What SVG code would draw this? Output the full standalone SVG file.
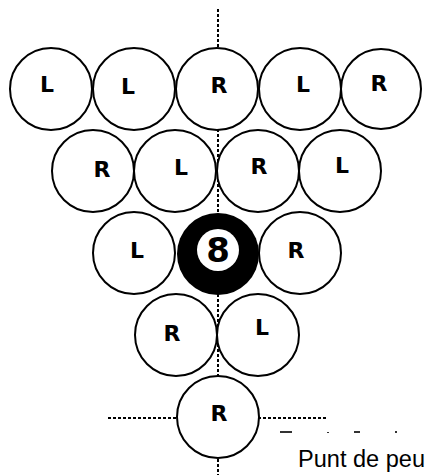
<svg xmlns="http://www.w3.org/2000/svg" width="426" height="475" viewBox="0 0 426 475">
<style>
.ball{fill:#fff;stroke:#000;stroke-width:2}
.lbl{font-family:"DejaVu Sans",Verdana,sans-serif;font-weight:bold;font-size:22px;fill:#000;text-anchor:middle}
.dash{stroke:#000;stroke-width:2;stroke-dasharray:3 2;fill:none}
</style>
<rect width="426" height="475" fill="#fff"/>
<g id="connectors">
<line class="dash" x1="218" y1="9" x2="218" y2="475"/>
<line class="dash" x1="108" y1="418" x2="328" y2="418"/>
</g>
<g id="r1c1"><circle class="ball" cx="51" cy="89" r="41"/><text class="lbl" x="47" y="92">L</text></g>
<g id="r1c2"><circle class="ball" cx="134" cy="89" r="41"/><text class="lbl" x="128" y="94">L</text></g>
<g id="r1c3"><circle class="ball" cx="217" cy="89" r="41"/><text class="lbl" x="219" y="93">R</text></g>
<g id="r1c4"><circle class="ball" cx="300" cy="89" r="41"/><text class="lbl" x="303" y="92">L</text></g>
<g id="r1c5"><circle class="ball" cx="381" cy="89" r="40"/><text class="lbl" x="379" y="91">R</text></g>
<g id="r2c1"><circle class="ball" cx="93" cy="171" r="41"/><text class="lbl" x="102" y="177">R</text></g>
<g id="r2c2"><circle class="ball" cx="175" cy="171" r="41"/><text class="lbl" x="181" y="175">L</text></g>
<g id="r2c3"><circle class="ball" cx="258" cy="171" r="41"/><text class="lbl" x="259" y="174">R</text></g>
<g id="r2c4"><circle class="ball" cx="340" cy="171" r="41"/><text class="lbl" x="342" y="173">L</text></g>
<g id="r3c1"><circle class="ball" cx="134" cy="253" r="41"/><text class="lbl" x="137" y="258">L</text></g>
<g id="r3c2"><circle cx="218" cy="254" r="41" fill="#000"/><circle cx="218" cy="250" r="21" fill="#fff"/><text x="218" y="262" font-family="DejaVu Sans,Verdana,sans-serif" font-weight="bold" font-size="34" text-anchor="middle" fill="#000">8</text></g>
<g id="r3c3"><circle class="ball" cx="300" cy="253" r="41"/><text class="lbl" x="296" y="258">R</text></g>
<g id="r4c1"><circle class="ball" cx="176" cy="335" r="41"/><text class="lbl" x="172" y="341">R</text></g>
<g id="r4c2"><circle class="ball" cx="258" cy="335" r="41"/><text class="lbl" x="262" y="335">L</text></g>
<g id="r5c1"><circle class="ball" cx="218" cy="417" r="41"/><text class="lbl" x="219" y="421">R</text></g>
<g id="fragments" fill="#333">
<rect x="280" y="431" width="12" height="2"/>
<rect x="327" y="432" width="2" height="1"/>
<rect x="354" y="431" width="6" height="2"/>
<rect x="395" y="431" width="2" height="2"/>
</g>
<text x="298" y="467" font-family="Liberation Sans,Arial,sans-serif" font-size="16" fill="#000" textLength="127" lengthAdjust="spacingAndGlyphs" style="font-size:23.5px">Punt de peu</text>
</svg>
